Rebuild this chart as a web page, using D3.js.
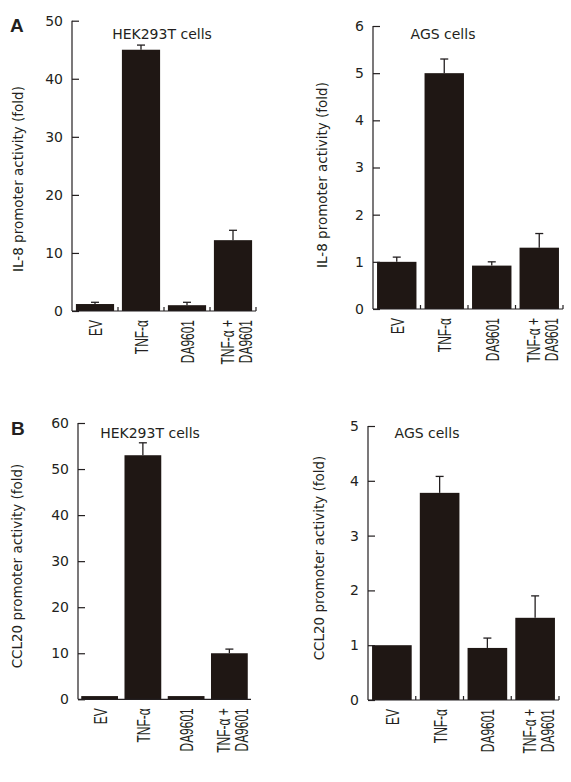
<!DOCTYPE html>
<html>
<head>
<meta charset="utf-8">
<script src="https://cdn.jsdelivr.net/npm/d3@7"></script>
<style>
  html, body { margin: 0; padding: 0; background: #fff; }
  svg { display: block; }
</style>
</head>
<body>
<svg id="chart" width="571" height="782"></svg>
<script>
// ---- data ----
const categories = ["EV", "TNF-α", "DA9601", "TNF-α +|DA9601"];

const il8HekValues = [1.2, 45, 1.0, 12.2];
const il8HekErrors = [0.3, 0.8, 0.5, 1.7];
const il8HekTicks = [0, 10, 20, 30, 40, 50];

const il8AgsValues = [1.0, 5.0, 0.92, 1.3];
const il8AgsErrors = [0.1, 0.3, 0.08, 0.3];
const il8AgsTicks = [0, 1, 2, 3, 4, 5, 6];

const ccl20HekValues = [0.7, 53, 0.7, 10.0];
const ccl20HekErrors = [0, 2.7, 0, 0.9];
const ccl20HekTicks = [0, 10, 20, 30, 40, 50, 60];

const ccl20AgsValues = [1.0, 3.78, 0.95, 1.5];
const ccl20AgsErrors = [0, 0.3, 0.18, 0.4];
const ccl20AgsTicks = [0, 1, 2, 3, 4, 5];

const panelTitles = ["HEK293T cells", "AGS cells", "HEK293T cells", "AGS cells"];
const yLabels = ["IL-8 promoter activity (fold)", "IL-8 promoter activity (fold)",
                 "CCL20 promoter activity (fold)", "CCL20 promoter activity (fold)"];
const panelLetters = ["A", "B"];

// ---- layout ----
const svg = d3.select("#chart");
const barColor = "#1f1714";
const axisColor = "#231f20";
const tickFont = "'DejaVu Sans', Verdana, sans-serif";
const catFont = "'Liberation Sans', Arial, sans-serif";

const panels = [
  { values: il8HekValues, errors: il8HekErrors, ticks: il8HekTicks, title: panelTitles[0], ylab: yLabels[0],
    x0: 72, x1: 256, yTop: 20.7, yBot: 311, titleX: 162, titleY: 39, ylabX: 23, ylabY: 179, xticks: true, barFrac: 0.83 },
  { values: il8AgsValues, errors: il8AgsErrors, ticks: il8AgsTicks, title: panelTitles[1], ylab: yLabels[1],
    x0: 373, x1: 563, yTop: 26, yBot: 309, titleX: 443, titleY: 39, ylabX: 327, ylabY: 175, xticks: true, barFrac: 0.83 },
  { values: ccl20HekValues, errors: ccl20HekErrors, ticks: ccl20HekTicks, title: panelTitles[2], ylab: yLabels[2],
    x0: 78, x1: 251, yTop: 423, yBot: 699.3, titleX: 150, titleY: 438, ylabX: 22, ylabY: 566, xticks: false, barFrac: 0.85 },
  { values: ccl20AgsValues, errors: ccl20AgsErrors, ticks: ccl20AgsTicks, title: panelTitles[3], ylab: yLabels[3],
    x0: 368, x1: 559, yTop: 426, yBot: 700, titleX: 427, titleY: 438, ylabX: 324, ylabY: 558, xticks: true, barFrac: 0.83 }
];

panels.forEach(p => {
  const g = svg.append("g");
  const yMax = p.ticks[p.ticks.length - 1];
  const y = d3.scaleLinear().domain([0, yMax]).range([p.yBot, p.yTop]);
  const xb = d3.scaleBand().domain(categories).range([p.x0, p.x1]).padding(0);
  const pi = 1 - p.barFrac;
  const x = d3.scaleBand().domain(categories).range([p.x0, p.x1]).paddingInner(pi).paddingOuter(pi / 2);

  // bars
  g.selectAll("rect.bar").data(categories).join("rect")
    .attr("x", (d) => x(d))
    .attr("width", x.bandwidth())
    .attr("y", (d, i) => y(p.values[i]))
    .attr("height", (d, i) => p.yBot - y(p.values[i]))
    .attr("fill", barColor);

  // error bars (upper only)
  categories.forEach((c, i) => {
    if (p.errors[i] <= 0) return;
    const cx = x(c) + x.bandwidth() / 2;
    const yv = y(p.values[i]);
    const ye = y(p.values[i] + p.errors[i]);
    g.append("line").attr("x1", cx).attr("x2", cx).attr("y1", yv).attr("y2", ye)
      .attr("stroke", axisColor).attr("stroke-width", 1.3);
    g.append("line").attr("x1", cx - 4).attr("x2", cx + 4).attr("y1", ye).attr("y2", ye)
      .attr("stroke", axisColor).attr("stroke-width", 1.3);
  });

  // y axis (inward ticks)
  const yAxis = d3.axisLeft(y).tickValues(p.ticks).tickSize(-7).tickPadding(9).tickFormat(d3.format("d"));
  const ya = g.append("g").attr("transform", `translate(${p.x0},0)`).call(yAxis);
  ya.select(".domain").attr("stroke", axisColor).attr("stroke-width", 1.2).attr("d", `M0,${p.yTop}V${p.yBot}`);
  ya.selectAll(".tick line").attr("stroke", axisColor).attr("stroke-width", 1.2);
  ya.selectAll(".tick text").attr("font-family", tickFont).attr("font-size", 14).attr("fill", "#231f20");

  // x axis line and inward ticks at band boundaries
  g.append("line").attr("x1", p.x0).attr("x2", p.x1).attr("y1", p.yBot).attr("y2", p.yBot)
    .attr("stroke", axisColor).attr("stroke-width", 1.2);
  if (p.xticks) {
    const bounds = categories.map(c => xb(c) + xb.bandwidth());
    g.selectAll("line.xt").data(bounds).join("line")
      .attr("x1", d => d).attr("x2", d => d).attr("y1", p.yBot).attr("y2", p.yBot - 4)
      .attr("stroke", axisColor).attr("stroke-width", 1.2);
  }

  // category labels (rotated, horizontally condensed)
  categories.forEach((c, i) => {
    const cx = xb(c) + xb.bandwidth() / 2;
    const lines = c.split("|");
    const t = g.append("text")
      .attr("transform", `translate(${cx},${p.yBot + 9}) rotate(-90) scale(0.63,1)`)
      .attr("text-anchor", "end")
      .attr("font-family", catFont).attr("font-size", 19).attr("fill", "#231f20");
    if (lines.length === 1) {
      t.append("tspan").attr("x", 0).attr("y", 7).text(lines[0]);
    } else {
      t.append("tspan").attr("x", 0).attr("y", 1).text(lines[0]);
      t.append("tspan").attr("x", 0).attr("y", 19).text(lines[1]);
    }
  });

  // title
  g.append("text").attr("x", p.titleX).attr("y", p.titleY).attr("text-anchor", "middle")
    .attr("font-family", tickFont).attr("font-size", 14).attr("fill", "#231f20").text(p.title);

  // y label
  g.append("text").attr("transform", `translate(${p.ylabX},${p.ylabY}) rotate(-90)`)
    .attr("text-anchor", "middle")
    .attr("font-family", tickFont).attr("font-size", 13.5).attr("fill", "#231f20").text(p.ylab);
});

// panel letters
svg.append("text").attr("x", 10).attr("y", 32).attr("font-family", "'Liberation Sans', Arial, sans-serif")
  .attr("font-weight", "bold").attr("font-size", 19).attr("fill", "#231f20").text(panelLetters[0]);
svg.append("text").attr("x", 11).attr("y", 435).attr("font-family", "'Liberation Sans', Arial, sans-serif")
  .attr("font-weight", "bold").attr("font-size", 19).attr("fill", "#231f20").text(panelLetters[1]);
</script>
</body>
</html>
